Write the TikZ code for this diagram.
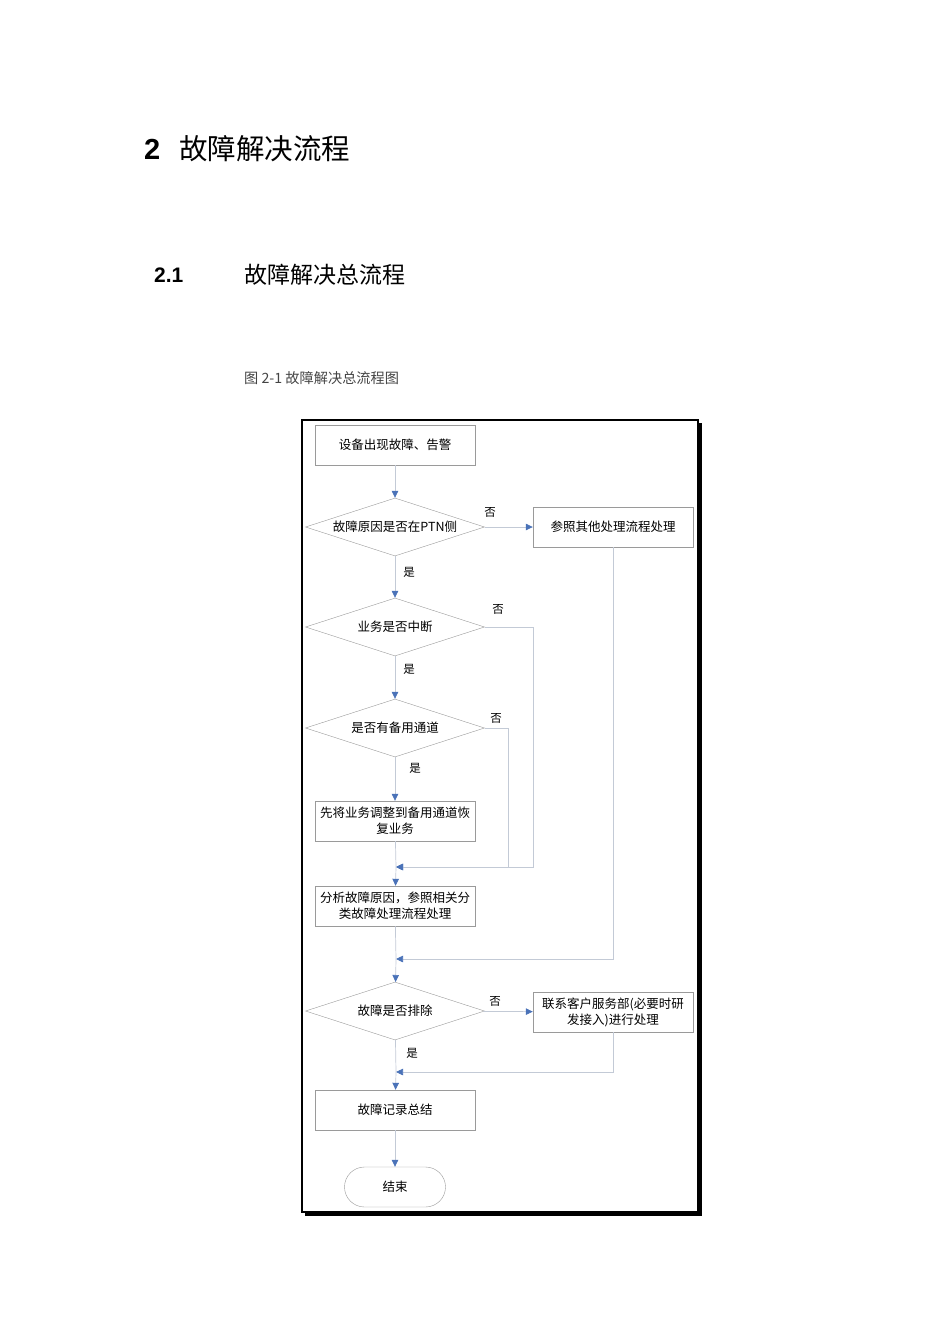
\documentclass[tikz,border=0pt]{standalone}
\usepackage{fontspec}
\setmainfont{Liberation Sans}
\newfontfamily\cjk{Noto Sans CJK SC}
\usetikzlibrary{shapes.geometric,positioning,arrows.meta}

\definecolor{linegray}{HTML}{C3CAD6}
\definecolor{boxgray}{HTML}{9A9A9A}
\definecolor{arrowblue}{HTML}{4A72B8}
\definecolor{captiongray}{HTML}{444444}

\tikzset{
  procbox/.style={draw=boxgray, fill=white, minimum width=160pt, minimum height=40pt,
    inner sep=1pt, align=center, font=\cjk\fontsize{12.5}{16}\selectfont},
  decision/.style={diamond, draw=boxgray, fill=white, shape aspect=3.1,
    minimum width=179pt, minimum height=58pt, inner sep=0pt, align=center,
    font=\cjk\fontsize{12.5}{16}\selectfont},
  endbox/.style={draw=boxgray, fill=white, rounded corners=20pt, minimum width=101pt,
    minimum height=40pt, font=\cjk\fontsize{12.5}{16}\selectfont},
  flow/.style={draw=linegray, line width=0.7pt,
    -{Triangle[length=7pt,width=6.5pt,color=arrowblue,fill=arrowblue]}},
  plain/.style={draw=linegray, line width=0.7pt},
  yesno/.style={font=\cjk\fontsize{11.5}{13}\selectfont, inner sep=0pt},
}

\begin{document}
\begin{tikzpicture}[x=1pt, y=-1pt]
    \useasboundingbox (0,0) rectangle (950,1344);

    % headings
    \node[anchor=west, inner sep=0pt, font=\bfseries\fontsize{29}{32}\selectfont] (chapnum) at (144,149) {2};
    \node[anchor=west, inner sep=0pt, font=\cjk\fontsize{28.5}{32}\selectfont] (chaptitle) at (179,149) {故障解决流程};
    \node[anchor=west, inner sep=0pt, font=\bfseries\fontsize{21}{24}\selectfont] (secnum) at (154,275) {2.1};
    \node[anchor=west, inner sep=0pt, font=\cjk\fontsize{23}{26}\selectfont] (sectitle) at (244,275) {故障解决总流程};
    \node[anchor=west, inner sep=0pt, text=captiongray, font=\cjk\fontsize{14.2}{17}\selectfont] (caption) at (244,378) {图 2-1 故障解决总流程图};

    % frame
    \fill[black] (698,423) rectangle (702,1216);
    \fill[black] (305,1212) rectangle (702,1216);
    \draw[line width=1.4pt] (302,420) rectangle (698,1212);

    % nodes
    \node[procbox] (start) at (395,445) {设备出现故障、告警};
    \node[decision] (dptn) at (395,527) {故障原因是否在PTN侧};
    \node[procbox] (other) at (613,527) {参照其他处理流程处理};
    \node[decision] (dint) at (395,627) {业务是否中断};
    \node[decision] (dbak) at (395,728) {是否有备用通道};
    \node[procbox] (swap) at (395,821) {先将业务调整到备用通道恢\\复业务};
    \coordinate (m1) at (396,867);
    \node[procbox] (anal) at (395,906) {分析故障原因，参照相关分\\类故障处理流程处理};
    \coordinate (m2) at (396,959);
    \node[decision] (dfix) at (395,1011) {故障是否排除};
    \node[procbox] (contact) at (613,1012) {联系客户服务部(必要时研\\发接入)进行处理};
    \coordinate (m3) at (396,1072);
    \node[procbox] (rec) at (395,1110) {故障记录总结};
    \node[endbox] (end) at (395,1187) {结束};

    % labels
    \node[yesno] (no1) at (490,512) {否};
    \node[yesno] (yes1) at (409,572) {是};
    \node[yesno] (no2) at (498,609) {否};
    \node[yesno] (yes2) at (409,669) {是};
    \node[yesno] (no3) at (496,718) {否};
    \node[yesno] (yes3) at (415,768) {是};
    \node[yesno] (no4) at (495,1001) {否};
    \node[yesno] (yes4) at (412,1053) {是};

    % connectors
    \draw[flow] (start) -- (dptn);
    \draw[flow] (dptn) -- (other);
    \draw[flow] (dptn) -- (dint);
    \draw[flow] (dint) -- (dbak);
    \draw[flow] (dbak) -- (swap);
    \draw[flow] (dint.east) -- ++(49,0) |- (m1);
    \draw[flow] (dbak.east) -- ++(24,0) |- (m1);
    \draw[plain] (swap) -- (m1);
    \draw[flow] (m1) -- (anal);
    \draw[flow] (other) |- (m2);
    \draw[plain] (anal) -- (m2);
    \draw[flow] (m2) -- (dfix);
    \draw[flow] (dfix) -- (contact);
    \draw[plain] (dfix) -- (m3);
    \draw[flow] (contact) |- (m3);
    \draw[flow] (m3) -- (rec);
    \draw[flow] (rec) -- (end);

\end{tikzpicture}
\end{document}
